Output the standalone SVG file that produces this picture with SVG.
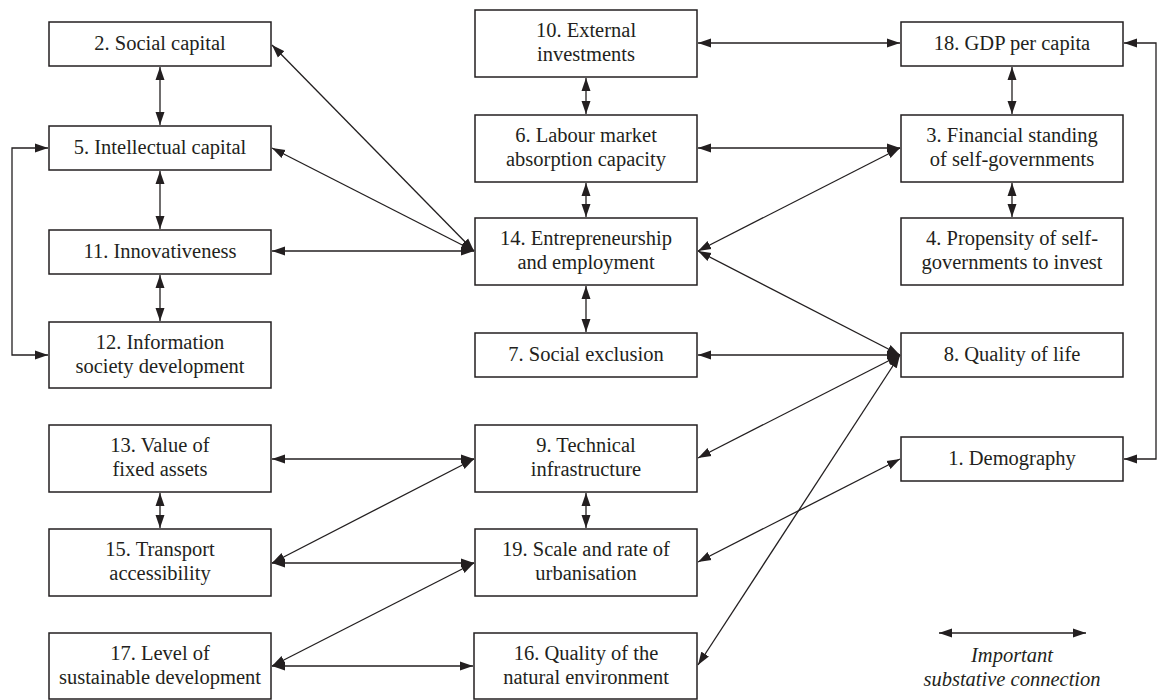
<svg xmlns="http://www.w3.org/2000/svg" width="1163" height="700" viewBox="0 0 1163 700">
<style>
.box{fill:#fff;stroke:#231f20;stroke-width:1.5}
.t{font-family:"Liberation Serif","Times New Roman",serif;font-size:20.5px;fill:#231f20;text-anchor:middle}
.i{font-style:italic}
.c{fill:none;stroke:#231f20;stroke-width:1.3;marker-start:url(#ah);marker-end:url(#ah)}
</style>
<defs>
<marker id="ah" markerUnits="userSpaceOnUse" markerWidth="14" markerHeight="10" refX="13" refY="4.5" orient="auto-start-reverse" viewBox="0 0 14 9">
<path d="M0,0 L13,4.5 L0,9 z" fill="#231f20"/>
</marker>
</defs>
<rect width="1163" height="700" fill="#fff"/>
<g id="connectors">
<path class="c" d="M160,67 V125"/>
<path class="c" d="M160,171 V229"/>
<path class="c" d="M160,275 V321"/>
<path class="c" d="M160,493 V528"/>
<path class="c" d="M48,148 H12 V355 H48"/>
<path class="c" d="M586,78 V114"/>
<path class="c" d="M586,183 V217"/>
<path class="c" d="M586,286 V332"/>
<path class="c" d="M586,493 V528"/>
<path class="c" d="M1012,67 V114"/>
<path class="c" d="M1012,183 V217"/>
<path class="c" d="M698,43 H900"/>
<path class="c" d="M698,148 H900"/>
<path class="c" d="M1124,43 H1156 V459 H1124"/>
<path class="c" d="M272,251 H474"/>
<path class="c" d="M698,355 H900"/>
<path class="c" d="M272,459 H474"/>
<path class="c" d="M272,563 H474"/>
<path class="c" d="M272,666 H473"/>
<path class="c" d="M272,45 L474,251"/>
<path class="c" d="M272,148 L474,251"/>
<path class="c" d="M900,148 L698,251"/>
<path class="c" d="M900,355 L698,251"/>
<path class="c" d="M900,355 L698,458"/>
<path class="c" d="M900,355 L698,665"/>
<path class="c" d="M900,459 L698,562"/>
<path class="c" d="M474,459 L272,563"/>
<path class="c" d="M474,563 L272,666"/>
<path class="c" d="M939,633 H1086"/>
</g>
<g id="n2"><rect class="box" x="49" y="22" width="222" height="44"/><text class="t" x="160" y="50">2. Social capital</text></g>
<g id="n5"><rect class="box" x="49" y="126" width="222" height="44"/><text class="t" x="160" y="154">5. Intellectual capital</text></g>
<g id="n11"><rect class="box" x="49" y="230" width="222" height="44"/><text class="t" x="160" y="258">11. Innovativeness</text></g>
<g id="n12"><rect class="box" x="49" y="322" width="222" height="66"/><text class="t" x="160" y="349">12. Information</text><text class="t" x="160" y="373">society development</text></g>
<g id="n13"><rect class="box" x="49" y="425" width="222" height="67"/><text class="t" x="160" y="452">13. Value of</text><text class="t" x="160" y="476">fixed assets</text></g>
<g id="n15"><rect class="box" x="49" y="529" width="222" height="67"/><text class="t" x="160" y="556">15. Transport</text><text class="t" x="160" y="580">accessibility</text></g>
<g id="n17"><rect class="box" x="49" y="633" width="222" height="66"/><text class="t" x="160" y="660">17. Level of</text><text class="t" x="160" y="684">sustainable development</text></g>
<g id="n10"><rect class="box" x="475" y="10" width="222" height="67"/><text class="t" x="586" y="37">10. External</text><text class="t" x="586" y="61">investments</text></g>
<g id="n6"><rect class="box" x="475" y="115" width="222" height="67"/><text class="t" x="586" y="142">6. Labour market</text><text class="t" x="586" y="166">absorption capacity</text></g>
<g id="n14"><rect class="box" x="475" y="218" width="222" height="67"/><text class="t" x="586" y="245">14. Entrepreneurship</text><text class="t" x="586" y="269">and employment</text></g>
<g id="n7"><rect class="box" x="475" y="333" width="222" height="44"/><text class="t" x="586" y="361">7. Social exclusion</text></g>
<g id="n9"><rect class="box" x="475" y="425" width="222" height="67"/><text class="t" x="586" y="452">9. Technical</text><text class="t" x="586" y="476">infrastructure</text></g>
<g id="n19"><rect class="box" x="475" y="529" width="222" height="67"/><text class="t" x="586" y="556">19. Scale and rate of</text><text class="t" x="586" y="580">urbanisation</text></g>
<g id="n16"><rect class="box" x="474" y="633" width="223" height="66"/><text class="t" x="586" y="660">16. Quality of the</text><text class="t" x="586" y="684">natural environment</text></g>
<g id="n18"><rect class="box" x="901" y="22" width="222" height="44"/><text class="t" x="1012" y="50">18. GDP per capita</text></g>
<g id="n3"><rect class="box" x="901" y="115" width="222" height="67"/><text class="t" x="1012" y="142">3. Financial standing</text><text class="t" x="1012" y="166">of self-governments</text></g>
<g id="n4"><rect class="box" x="901" y="218" width="222" height="67"/><text class="t" x="1012" y="245">4. Propensity of self-</text><text class="t" x="1012" y="269">governments to invest</text></g>
<g id="n8"><rect class="box" x="901" y="333" width="222" height="44"/><text class="t" x="1012" y="361">8. Quality of life</text></g>
<g id="n1"><rect class="box" x="901" y="437" width="222" height="44"/><text class="t" x="1012" y="465">1. Demography</text></g>
<g id="legend"><text class="t i" x="1012" y="662">Important</text><text class="t i" x="1012" y="686">substative connection</text></g>
</svg>
